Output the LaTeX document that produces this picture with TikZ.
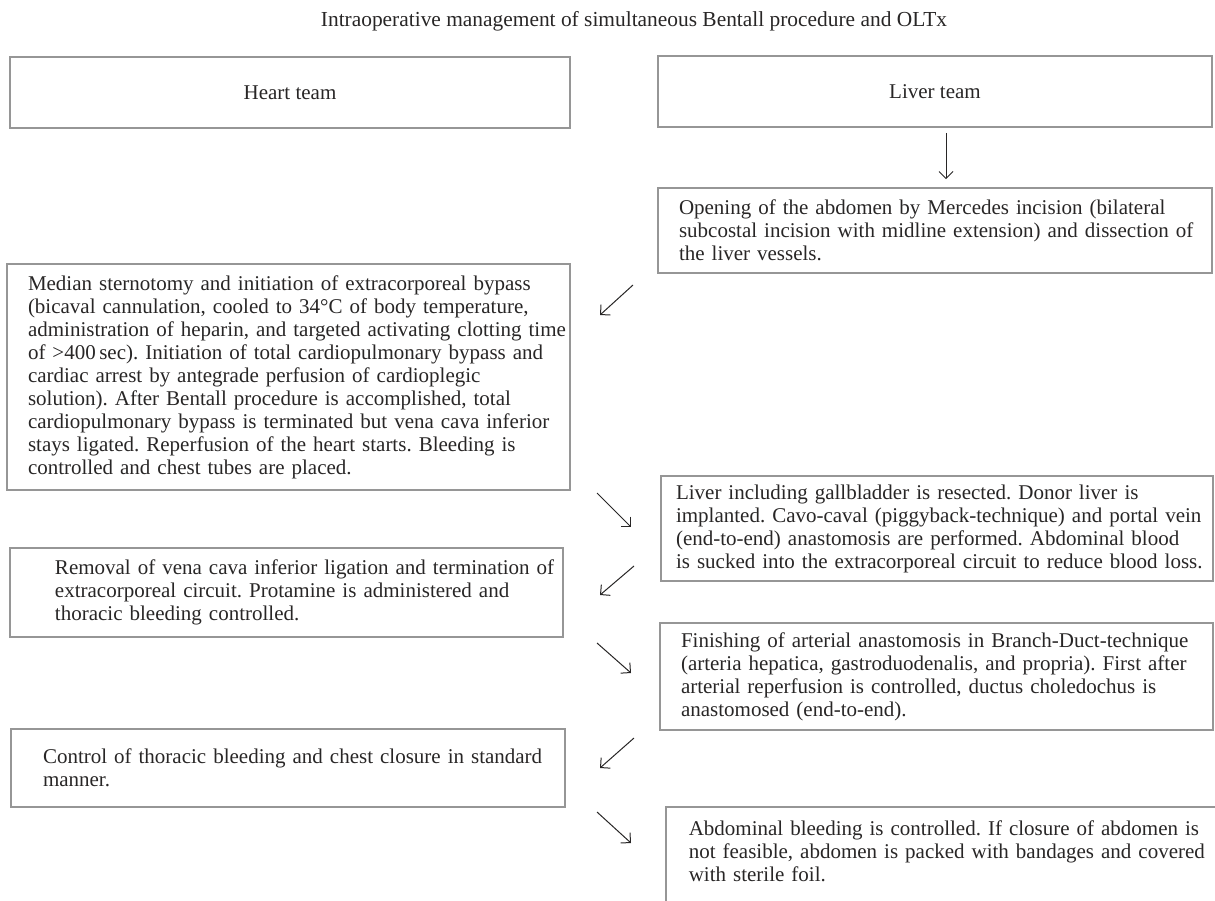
\documentclass[tikz,border=0pt]{standalone}
\usepackage{fontspec}
\setmainfont{Liberation Serif}
\frenchspacing
\usetikzlibrary{arrows.meta}
\definecolor{boxgray}{RGB}{150,150,150}
\definecolor{inkgray}{RGB}{40,38,38}
\tikzset{box/.style = {draw=boxgray, line width=0.8pt, align=left, inner sep=0pt,
                       font=\fontsize{10.5}{11.5}\selectfont, text=inkgray}}
\tikzset{lead/.style = {execute at begin node={\leftskip=#1}}}
\tikzset{arr/.style = {draw=inkgray, line width=0.5pt,
                       -{Straight Barb[length=3.5pt,width=7pt]}}}

\begin{document}
\begin{tikzpicture}[x=0.5pt, y=-0.5pt]
      \useasboundingbox (0, 0) rectangle (1215, 900);
      \clip (0, 0) rectangle (1215, 900);

      \node [font=\fontsize{10.7}{12}\selectfont, text=inkgray] (title) at (634, 21)
        {Intraoperative management of simultaneous Bentall procedure and OLTx};

      % two teams
      \node [box, minimum width=280pt, minimum height=35.5pt] (heart) at (290, 92.5) {Heart team};
      \node [box, minimum width=277pt, minimum height=35.5pt] (liver) at (935, 91.5) {Liver team};

      % liver side
      \node [box, text width=277pt, lead=10.5pt, minimum height=42.5pt] (open) at (935, 230.5)
        {Opening of the abdomen by Mercedes incision (bilateral\\
         subcostal incision with midline extension) and dissection of\\
         the liver vessels.};
      \node [box, text width=276pt, lead=7.5pt, minimum height=52.5pt] (resect) at (937, 528.5)
        {Liver including gallbladder is resected. Donor liver is\\
         implanted. Cavo-caval (piggyback-technique) and portal vein\\
         (end-to-end) anastomosis are performed. Abdominal blood\\
         is sucked into the extracorporeal circuit to reduce blood loss.};
      \node [box, text width=276.5pt, lead=10.5pt, minimum height=53.5pt] (arterial) at (936.5, 676.5)
        {Finishing of arterial anastomosis in Branch-Duct-technique\\
         (arteria hepatica, gastroduodenalis, and propria). First after\\
         arterial reperfusion is controlled, ductus choledochus is\\
         anastomosed (end-to-end).};
      \node [box, anchor=north west, text width=282.5pt, lead=11.5pt,
             inner ysep=7pt, text depth=30pt] (abdomen) at (665, 806)
        {Abdominal bleeding is controlled. If closure of abdomen is\\
         not feasible, abdomen is packed with bandages and covered\\
         with sterile foil.};

      % heart side
      \node [box, text width=281.5pt, lead=10.5pt, minimum height=113pt] (sterno) at (288.5, 377)
        {Median sternotomy and initiation of extracorporeal bypass\\
         (bicaval cannulation, cooled to 34°C of body temperature,\\
         administration of heparin, and targeted activating clotting time\\
         of >400\,sec). Initiation of total cardiopulmonary bypass and\\
         cardiac arrest by antegrade perfusion of cardioplegic\\
         solution). After Bentall procedure is accomplished, total\\
         cardiopulmonary bypass is terminated but vena cava inferior\\
         stays ligated. Reperfusion of the heart starts. Bleeding is\\
         controlled and chest tubes are placed.};
      \node [box, text width=276.5pt, lead=22.5pt, minimum height=44.5pt] (removal) at (286.5, 592.5)
        {Removal of vena cava inferior ligation and termination of\\
         extracorporeal circuit. Protamine is administered and\\
         thoracic bleeding controlled.};
      \node [box, text width=277pt, lead=16pt, minimum height=39pt] (closure) at (288, 768)
        {Control of thoracic bleeding and chest closure in standard\\
         manner.};

      % arrows between the columns
      \coordinate (sw1a) at (633, 285);  \coordinate (sw1b) at (600, 315);
      \coordinate (se1a) at (597, 493);  \coordinate (se1b) at (631, 527);
      \coordinate (sw2a) at (634, 566);  \coordinate (sw2b) at (600, 595);
      \coordinate (se2a) at (597, 643);  \coordinate (se2b) at (631, 673);
      \coordinate (sw3a) at (634, 738);  \coordinate (sw3b) at (600, 768);
      \coordinate (se3a) at (597, 812);  \coordinate (se3b) at (631, 843);

      \draw [arr] ([xshift=5.5pt, yshift=-2.5pt]liver.south) -- ([xshift=5.5pt, yshift=4pt]open.north);
      \draw [arr] (sw1a) -- (sw1b);
      \draw [arr] (se1a) -- (se1b);
      \draw [arr] (sw2a) -- (sw2b);
      \draw [arr] (se2a) -- (se2b);
      \draw [arr] (sw3a) -- (sw3b);
      \draw [arr] (se3a) -- (se3b);
    \end{tikzpicture}
\end{document}
